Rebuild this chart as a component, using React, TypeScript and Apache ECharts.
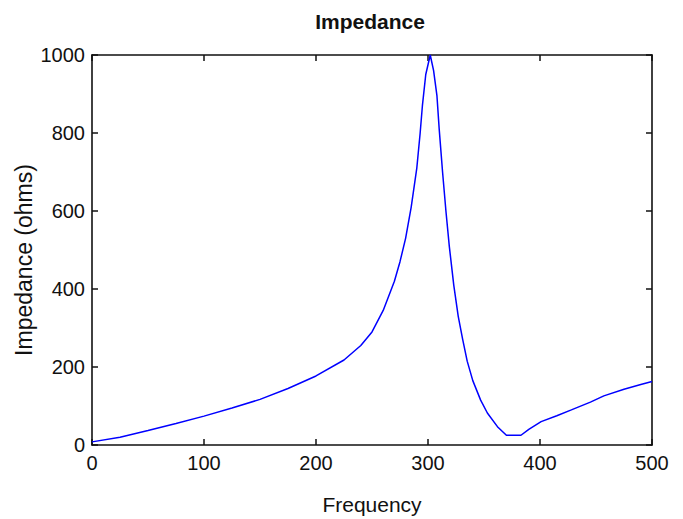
import React, { useEffect, useRef } from "react";
import * as echarts from "echarts";

const frequency = [0, 25, 50, 75, 100, 125, 150, 175, 200, 225, 240, 250, 260, 270, 275, 280, 285, 290, 293, 295, 298, 302, 305, 308, 310, 313, 316, 319, 323, 327, 331, 335, 340, 347, 353, 362, 370, 383, 390, 401, 415, 428, 445, 457, 475, 490, 500];
const impedance = [8, 20, 37, 55, 74, 95, 117, 145, 177, 218, 255, 290, 345, 420, 470, 530, 610, 710, 800, 870, 950, 1000, 960, 895, 810, 700, 600, 510, 410, 330, 270, 215, 165, 115, 82, 47, 25, 25, 40, 60, 75, 90, 110, 126, 143, 155, 163];
const xTicks = [0, 100, 200, 300, 400, 500];
const yTicks = [0, 200, 400, 600, 800, 1000];

const font = "'Liberation Sans', Arial, sans-serif";

export default function App() {
  const ref = useRef<HTMLDivElement>(null);
  useEffect(() => {
    document.body.style.margin = "0";
    if (!ref.current) return;
    const chart = echarts.init(ref.current, null, { renderer: "svg" });
    const axisLine = () => ({ show: true, onZero: false, lineStyle: { color: "#111", width: 1.6 } });
    const tick = () => ({ show: true, inside: true, length: 6, lineStyle: { color: "#111", width: 1.5 } });
    const plain = (v: number) => String(v);
    chart.setOption({
      animation: false,
      backgroundColor: "#fff",
      title: {
        text: "Impedance",
        left: 370,
        textAlign: "center",
        top: 11,
        padding: 0,
        textStyle: { fontFamily: font, fontWeight: "bold", fontSize: 21, color: "#111" },
      },
      grid: { left: 92, right: 31, top: 55, bottom: 74, containLabel: false, outerBoundsMode: "none", show: false },
      xAxis: [
        {
          type: "value",
          min: xTicks[0],
          max: xTicks[xTicks.length - 1],
          interval: 100,
          position: "bottom",
          name: "Frequency",
          nameLocation: "middle",
          nameGap: 49,
          nameMoveOverlap: false,
          nameTextStyle: { fontFamily: font, fontSize: 21, color: "#111" },
          axisLine: axisLine(),
          axisTick: tick(),
          axisLabel: { fontFamily: font, fontSize: 20, color: "#111", margin: 8, formatter: plain },
          splitLine: { show: false },
        },
        {
          type: "value",
          min: xTicks[0],
          max: xTicks[xTicks.length - 1],
          interval: 100,
          position: "top",
          axisLine: axisLine(),
          axisTick: tick(),
          axisLabel: { show: false },
          splitLine: { show: false },
        },
      ],
      yAxis: [
        {
          type: "value",
          min: yTicks[0],
          max: yTicks[yTicks.length - 1],
          interval: 200,
          position: "left",
          name: "Impedance (ohms)",
          nameLocation: "middle",
          nameGap: 57,
          nameMoveOverlap: false,
          nameTextStyle: { fontFamily: font, fontSize: 23, color: "#111", padding: [0, 20, 0, 0] },
          axisLine: axisLine(),
          axisTick: tick(),
          axisLabel: { fontFamily: font, fontSize: 20, color: "#111", margin: 7, formatter: plain },
          splitLine: { show: false },
        },
        {
          type: "value",
          min: yTicks[0],
          max: yTicks[yTicks.length - 1],
          interval: 200,
          position: "right",
          axisLine: axisLine(),
          axisTick: tick(),
          axisLabel: { show: false },
          splitLine: { show: false },
        },
      ],
      series: [
        {
          type: "line",
          data: frequency.map((f, i) => [f, impedance[i]]),
          showSymbol: false,
          symbol: "none",
          lineStyle: { color: "#0000ff", width: 1.5 },
          xAxisIndex: 0,
          yAxisIndex: 0,
        },
      ],
    });
    return () => chart.dispose();
  }, []);
  return <div ref={ref} style={{ width: 683, height: 519 }} />;
}
